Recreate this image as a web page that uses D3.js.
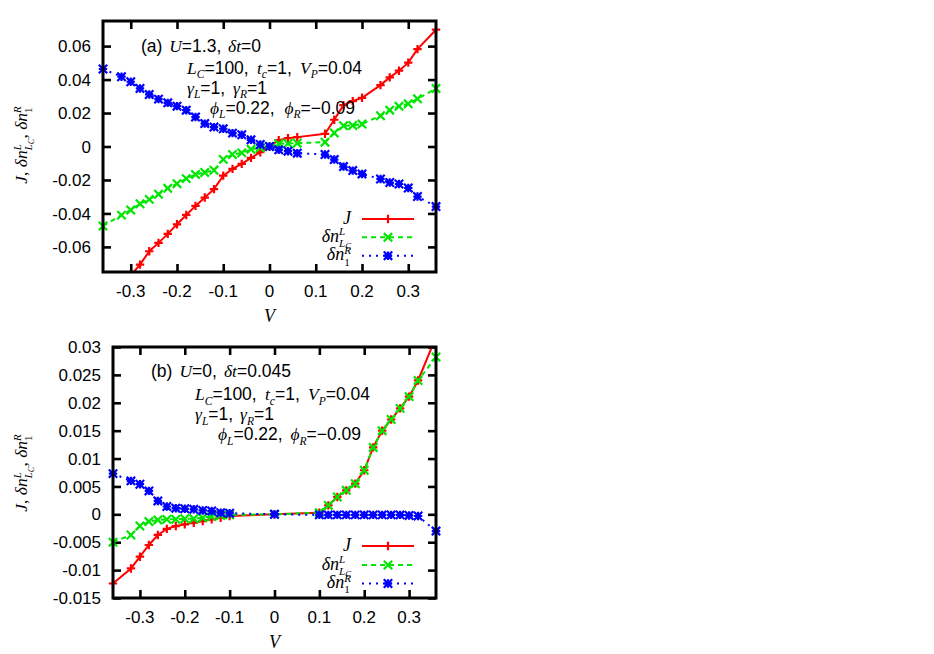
<!DOCTYPE html>
<html><head><meta charset="utf-8">
<script src="https://cdn.jsdelivr.net/npm/d3@7"></script>
<style>
html,body{margin:0;padding:0;background:#fff;}
svg{display:block;}
text{white-space:pre;}
</style></head>
<body>
<svg id="c" width="934" height="654"></svg>
<script>
// ---------- data ----------
const VA = [-0.36,-0.32,-0.30,-0.28,-0.26,-0.24,-0.22,-0.20,-0.18,-0.16,-0.14,-0.12,-0.10,-0.08,-0.06,-0.04,-0.02,0,0.02,0.04,0.06,0.12,0.14,0.16,0.18,0.20,0.24,0.26,0.28,0.30,0.32,0.36];
const JA = [-0.094,-0.084,-0.077,-0.0706,-0.0626,-0.0576,-0.0522,-0.0465,-0.0409,-0.0355,-0.0305,-0.0255,-0.0174,-0.0134,-0.0104,-0.0068,-0.0034,0,0.0038,0.005,0.0056,0.0076,0.016,0.0247,0.0271,0.0291,0.0367,0.0413,0.0453,0.0501,0.0582,0.0698];
const GA = [-0.0475,-0.041,-0.038,-0.0342,-0.0316,-0.0285,-0.025,-0.0222,-0.0192,-0.0167,-0.0155,-0.0142,-0.0077,-0.0048,-0.0038,-0.0017,-0.0008,0,0.0016,0.0018,0.002,0.0026,0.0081,0.0124,0.0126,0.0134,0.0184,0.0217,0.024,0.0255,0.0285,0.0347];
const BA = [0.0463,0.0417,0.0387,0.0347,0.0311,0.0283,0.0261,0.0241,0.0217,0.0176,0.0137,0.0116,0.0106,0.008,0.007,0.004,0.0012,0,-0.002,-0.0028,-0.004,-0.0048,-0.0078,-0.012,-0.0144,-0.0164,-0.0194,-0.0215,-0.0224,-0.0248,-0.0299,-0.0359];

const VB = [-0.36,-0.32,-0.30,-0.28,-0.26,-0.24,-0.22,-0.20,-0.18,-0.16,-0.14,-0.12,-0.10,0,0.10,0.12,0.14,0.16,0.18,0.20,0.22,0.24,0.26,0.28,0.30,0.32,0.36];
const JB = [-0.0124,-0.0097,-0.0076,-0.0055,-0.0037,-0.0026,-0.0021,-0.0018,-0.0015,-0.0012,-0.0009,-0.0006,-0.0003,0,0.0003,0.0016,0.0031,0.0043,0.0055,0.0079,0.012,0.015,0.017,0.019,0.0211,0.024,0.0318];
const GB = [-0.005,-0.0037,-0.0021,-0.0013,-0.001,-0.0009,-0.0009,-0.0008,-0.0008,-0.0006,-0.0004,-0.0002,-0.0001,0,0.0003,0.0016,0.0031,0.0043,0.0055,0.0079,0.012,0.015,0.017,0.019,0.0211,0.024,0.0282];
const BB = [0.0073,0.006,0.0054,0.0042,0.0024,0.0014,0.0011,0.001,0.0009,0.0007,0.0006,0.0003,0.0002,0,-0.0001,-0.0001,-0.0001,-0.0001,-0.0001,-0.0001,-0.0001,-0.0001,-0.0001,-0.0001,-0.0002,-0.0003,-0.003];

const xTicks = [-0.3,-0.2,-0.1,0,0.1,0.2,0.3];
const xTickLabels = ["-0.3","-0.2","-0.1","0","0.1","0.2","0.3"];
const yTicksA = [-0.06,-0.04,-0.02,0,0.02,0.04,0.06];
const yTickLabelsA = ["-0.06","-0.04","-0.02","0","0.02","0.04","0.06"];
const yTicksB = [-0.015,-0.01,-0.005,0,0.005,0.01,0.015,0.02,0.025,0.03];
const yTickLabelsB = ["-0.015","-0.01","-0.005","0","0.005","0.01","0.015","0.02","0.025","0.03"];

// ---------- rendering ----------
const svg = d3.select("#c");
const SANS = "'Liberation Sans', Arial, Helvetica, sans-serif";
const SERIF = "'Liberation Serif', 'Times New Roman', serif";

function layout(inner, segs, size, pad) {
  inner.selectAll("*").remove();
  let cx = 0, maxX = 0, saveX = 0;
  segs.forEach(s => {
    if (s.reset) cx = saveX; else if (!s.cont) cx = maxX;
    if (s.mark) saveX = cx;
    let fs = size, dy = 0;
    if (s.k === "sup") { fs = size*0.62; dy = -size*0.36; }
    if (s.k === "sub") { fs = size*0.66; dy = size*0.26; }
    if (s.k === "lsub") { fs = size*0.62; dy = size*0.3; }
    if (s.k === "subsub") { fs = size*0.48; dy = size*0.42; }
    const t = inner.append("text").attr("x", cx).attr("y", dy)
      .attr("font-size", fs)
      .attr("font-family", s.f === "s" ? SANS : SERIF)
      .attr("font-style", s.f === "i" ? "italic" : "normal")
      .attr("fill", "#000")
      .text(s.t);
    const w = t.node().getComputedTextLength();
    const nsp = (s.t.match(/ /g) || []).length;
    cx += w + nsp*pad; maxX = Math.max(maxX, cx);
  });
  return maxX;
}

function rich(parent, x, y, segs, size, anchor, rotate, target) {
  const g = parent.append("g");
  const inner = g.append("g");
  let maxX = layout(inner, segs, size, 0);
  let sx = 1;
  if (target) {
    const nsp = segs.reduce((a,s)=>a+(s.t.match(/ /g)||[]).length, 0);
    const diff = target - maxX;
    if (diff > 0 && nsp > 0) maxX = layout(inner, segs, size, diff/nsp);
    else if (diff < 0) { sx = target/maxX; }
  }
  let off = 0;
  if (anchor === "end") off = -maxX*sx; else if (anchor === "middle") off = -maxX*sx/2;
  inner.attr("transform", `translate(${off},0) scale(${sx},1)`);
  g.attr("transform", `translate(${x},${y})` + (rotate ? ` rotate(${rotate})` : ""));
  return g;
}

const I = t => ({t, f:"i"});
const S = t => ({t, f:"s"});
const R = t => ({t, f:"r"});

function marker(g, type, x, y, color) {
  const r = 4.2;
  let d = "";
  if (type === "plus" || type === "star") d += `M${x-r},${y}H${x+r}M${x},${y-r}V${y+r}`;
  if (type === "cross" || type === "star") d += `M${x-r},${y-r}L${x+r},${y+r}M${x-r},${y+r}L${x+r},${y-r}`;
  g.append("path").attr("d", d).attr("stroke", color).attr("stroke-width", 2.2).attr("fill", "none");
}

const seriesStyle = [
  {color:"#ff0000", dash:null, mk:"plus"},
  {color:"#00e600", dash:"5,4", mk:"cross"},
  {color:"#0000ff", dash:"2,5", mk:"star"}
];

function panel(id, box, ydom, yTicks, yTickLabels, V, series, notes, legendY) {
  const x = d3.scaleLinear().domain([-0.36, 0.36]).range([box.l, box.r]);
  const y = d3.scaleLinear().domain(ydom).range([box.b, box.t]);
  const g = svg.append("g");

  g.append("clipPath").attr("id", "clip"+id).append("rect")
    .attr("x", box.l).attr("y", box.t).attr("width", box.r-box.l).attr("height", box.b-box.t);

  const tl = 8;
  const axB = d3.axisBottom(x).tickValues(xTicks).tickSize(tl).tickFormat(()=>"");
  const axT = d3.axisTop(x).tickValues(xTicks).tickSize(tl).tickFormat(()=>"");
  const axL = d3.axisLeft(y).tickValues(yTicks).tickSize(tl).tickFormat(()=>"");
  const axR = d3.axisRight(y).tickValues(yTicks).tickSize(tl).tickFormat(()=>"");
  const ab = g.append("g").attr("transform", `translate(0,${box.b-tl})`).call(axB);
  const at = g.append("g").attr("transform", `translate(0,${box.t+tl})`).call(axT);
  const al = g.append("g").attr("transform", `translate(${box.l+tl},0)`).call(axL);
  const ar = g.append("g").attr("transform", `translate(${box.r-tl},0)`).call(axR);
  [ab,at,al,ar].forEach(a => {
    a.select(".domain").remove();
    a.selectAll(".tick line").attr("stroke", "#000").attr("stroke-width", 2.6);
  });

  xTicks.forEach((v,i) => {
    g.append("text").attr("x", x(v)).attr("y", box.b + 25).attr("text-anchor", "middle")
      .attr("font-family", SANS).attr("font-size", 17).text(xTickLabels[i]);
  });
  yTicks.forEach((v,i) => {
    g.append("text").attr("x", box.l - 12).attr("y", y(v)).attr("dy", "0.36em").attr("text-anchor", "end")
      .attr("font-family", SANS).attr("font-size", 17).text(yTickLabels[i]);
  });

  rich(g, (box.l+box.r)/2, box.b + 50, [I("V")], 18, "middle");
  rich(g, box.ylabX, box.ylabY, [
    I("J"), R(", "), I("δn"), {t:"L", f:"i", k:"sup", mark:true}, {t:"L", f:"i", k:"lsub", reset:true}, {t:"C", f:"i", k:"subsub", cont:true},
    R(", "), I("δn"), {t:"R", f:"i", k:"sup", mark:true}, {t:"1", f:"r", k:"lsub", reset:true}
  ], 17.5, "middle", -90);

  series.forEach((vals, si) => {
    const st = seriesStyle[si];
    const pts = V.map((v,i)=>[v, vals[i]]);
    const line = d3.line().x(d=>x(d[0])).y(d=>y(d[1]));
    g.append("path").attr("d", line(pts)).attr("clip-path", `url(#clip${id})`)
      .attr("fill", "none").attr("stroke", st.color).attr("stroke-width", 2)
      .attr("stroke-dasharray", st.dash);
    const mg = g.append("g");
    pts.forEach(p => {
      if (p[1] < ydom[0] || p[1] > ydom[1]) return;
      marker(mg, st.mk, x(p[0]), y(p[1]), st.color);
    });
  });

  const legLabels = [
    [I("J")],
    [I("δn"), {t:"L", f:"i", k:"sup", mark:true}, {t:"L", f:"i", k:"lsub", reset:true}, {t:"C", f:"i", k:"subsub", cont:true}],
    [I("δn"), {t:"R", f:"i", k:"sup", mark:true}, {t:"1", f:"r", k:"lsub", reset:true}]
  ];
  legendY.forEach((ly, i) => {
    const st = seriesStyle[i];
    rich(g, 351, ly + 4.5, legLabels[i], 18, "end");
    g.append("line").attr("x1", 362).attr("x2", 414).attr("y1", ly).attr("y2", ly)
      .attr("stroke", st.color).attr("stroke-width", 2).attr("stroke-dasharray", st.dash);
    marker(g, st.mk, 388, ly, st.color);
  });

  notes.forEach(n => rich(g, n.x, n.y, n.segs, 17.5, "start", 0, n.w));

  g.append("rect").attr("x", box.l).attr("y", box.t).attr("width", box.r-box.l).attr("height", box.b-box.t)
    .attr("fill", "none").attr("stroke", "#000").attr("stroke-width", 3);
}

const line2 = [I("L"), {t:"C", f:"i", k:"sub"}, S("=100, "), I("t"), {t:"c", f:"i", k:"sub"}, S("=1, "), I("V"), {t:"P", f:"i", k:"sub"}, S("=0.04")];
const line3 = [I("γ"), {t:"L", f:"i", k:"sub"}, S("=1, "), I("γ"), {t:"R", f:"i", k:"sub"}, S("=1")];
const line4 = [I("ϕ"), {t:"L", f:"i", k:"sub"}, S("=0.22, "), I("ϕ"), {t:"R", f:"i", k:"sub"}, S("=−0.09")];
const notesA = [
  {x:141, y:51.5, w:120, segs:[S("(a) "), I("U"), S("=1.3, "), I("δt"), S("=0")]},
  {x:187, y:73.5, w:175, segs:line2},
  {x:187, y:93.5, w:80, segs:line3},
  {x:210, y:113.5, w:145, segs:line4}
];
const notesB = [
  {x:151, y:377, w:140, segs:[S("(b) "), I("U"), S("=0, "), I("δt"), S("=0.045")]},
  {x:195, y:400, w:175, segs:line2},
  {x:195, y:420, w:79, segs:line3},
  {x:218, y:440, w:143, segs:line4}
];

panel("A", {l:103, r:436, t:21, b:272, ylabX:27, ylabY:145}, [-0.075, 0.075], yTicksA, yTickLabelsA, VA, [JA, GA, BA], notesA, [219, 237.3, 255.7]);
panel("B", {l:113, r:436, t:347, b:598, ylabX:27, ylabY:473}, [-0.015, 0.03], yTicksB, yTickLabelsB, VB, [JB, GB, BB], notesB, [546, 565, 583.5]);
</script>
</body></html>
